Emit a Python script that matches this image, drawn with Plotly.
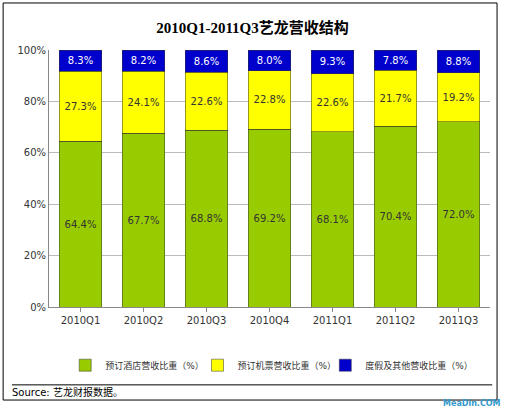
import plotly.graph_objects as go

quarters = ['2010Q1', '2010Q2', '2010Q3', '2010Q4', '2011Q1', '2011Q2', '2011Q3']
hotel = [64.4, 67.7, 68.8, 69.2, 68.1, 70.4, 72.0]
air = [27.3, 24.1, 22.6, 22.8, 22.6, 21.7, 19.2]
other = [8.3, 8.2, 8.6, 8.0, 9.3, 7.8, 8.8]

font = "DejaVu Sans, Noto Sans CJK SC"
fig = go.Figure()
series = [
    ('预订酒店营收比重（%）', hotel, '#99CC00', '#333333', 'legend', 0.2),
    ('预订机票营收比重（%）', air, '#FFFF00', '#333333', 'legend2', 0.5),
    ('度假及其他营收比重（%）', other, '#0000CC', '#FFFFFF', 'legend3', 0.8),
]
legends = {}
for name, vals, color, tcolor, lg, lx in series:
    fig.add_trace(go.Bar(
        x=quarters, y=vals, name=name, legend=lg,
        marker=dict(color=color, line=dict(color='#333333', width=0.5)),
        width=0.67,
        text=[f"{v:.1f}%" for v in vals], textposition='inside',
        insidetextanchor='middle',
        textfont=dict(size=10, color=tcolor, family=font),
    ))
    legends[lg] = dict(x=lx, xanchor='center', y=-0.17, yanchor='top', bgcolor='rgba(0,0,0,0)',
                       font=dict(size=9, color='#333', family=font), itemwidth=30)

fig.update_layout(
    barmode='stack', width=505, height=410,
    margin=dict(l=49, r=15, t=50, b=103),
    paper_bgcolor='white', plot_bgcolor='white',
    title=dict(text='<b>2010Q1-2011Q3艺龙营收结构</b>', x=0.5, y=0.945,
               xanchor='center', font=dict(size=15, color='black', family='Liberation Serif, Noto Sans CJK SC')),
    xaxis=dict(showline=True, linecolor='#888888', tickfont=dict(size=10, color='#333', family=font),
               ticks='outside', ticklen=4, tickcolor='#888888'),
    yaxis=dict(range=[0, 100], dtick=20, ticksuffix='%', showgrid=True, gridcolor='#BBBBBB',
               showline=True, linecolor='#888888', mirror=False,
               tickfont=dict(size=10, color='#333', family=font)),
    uniformtext=dict(minsize=8, mode='show'),
    showlegend=True,
    **legends,
)
fig.add_shape(type='rect', xref='paper', yref='paper', x0=-0.104, x1=1.016, y0=-0.362, y1=1.183,
              line=dict(color='black', width=1), layer='above')
fig.add_shape(type='line', xref='paper', yref='paper', x0=-0.084, x1=1.005, y0=-0.303, y1=-0.303,
              line=dict(color='black', width=1))
fig.add_annotation(text='Source: 艺龙财报数据。', xref='paper', yref='paper', x=-0.088, y=-0.332,
                   xanchor='left', yanchor='middle', showarrow=False,
                   font=dict(size=10, color='black', family=font))
fig.add_annotation(text='<b>MeaDin.COM</b>', xref='paper', yref='paper', x=1.03, y=-0.374,
                   xanchor='right', yanchor='middle', showarrow=False,
                   font=dict(size=8, color='#3399CC', family=font))
fig.write_html('out.html', config={'displayModeBar': False},
               post_script="document.body.style.margin='0';")
